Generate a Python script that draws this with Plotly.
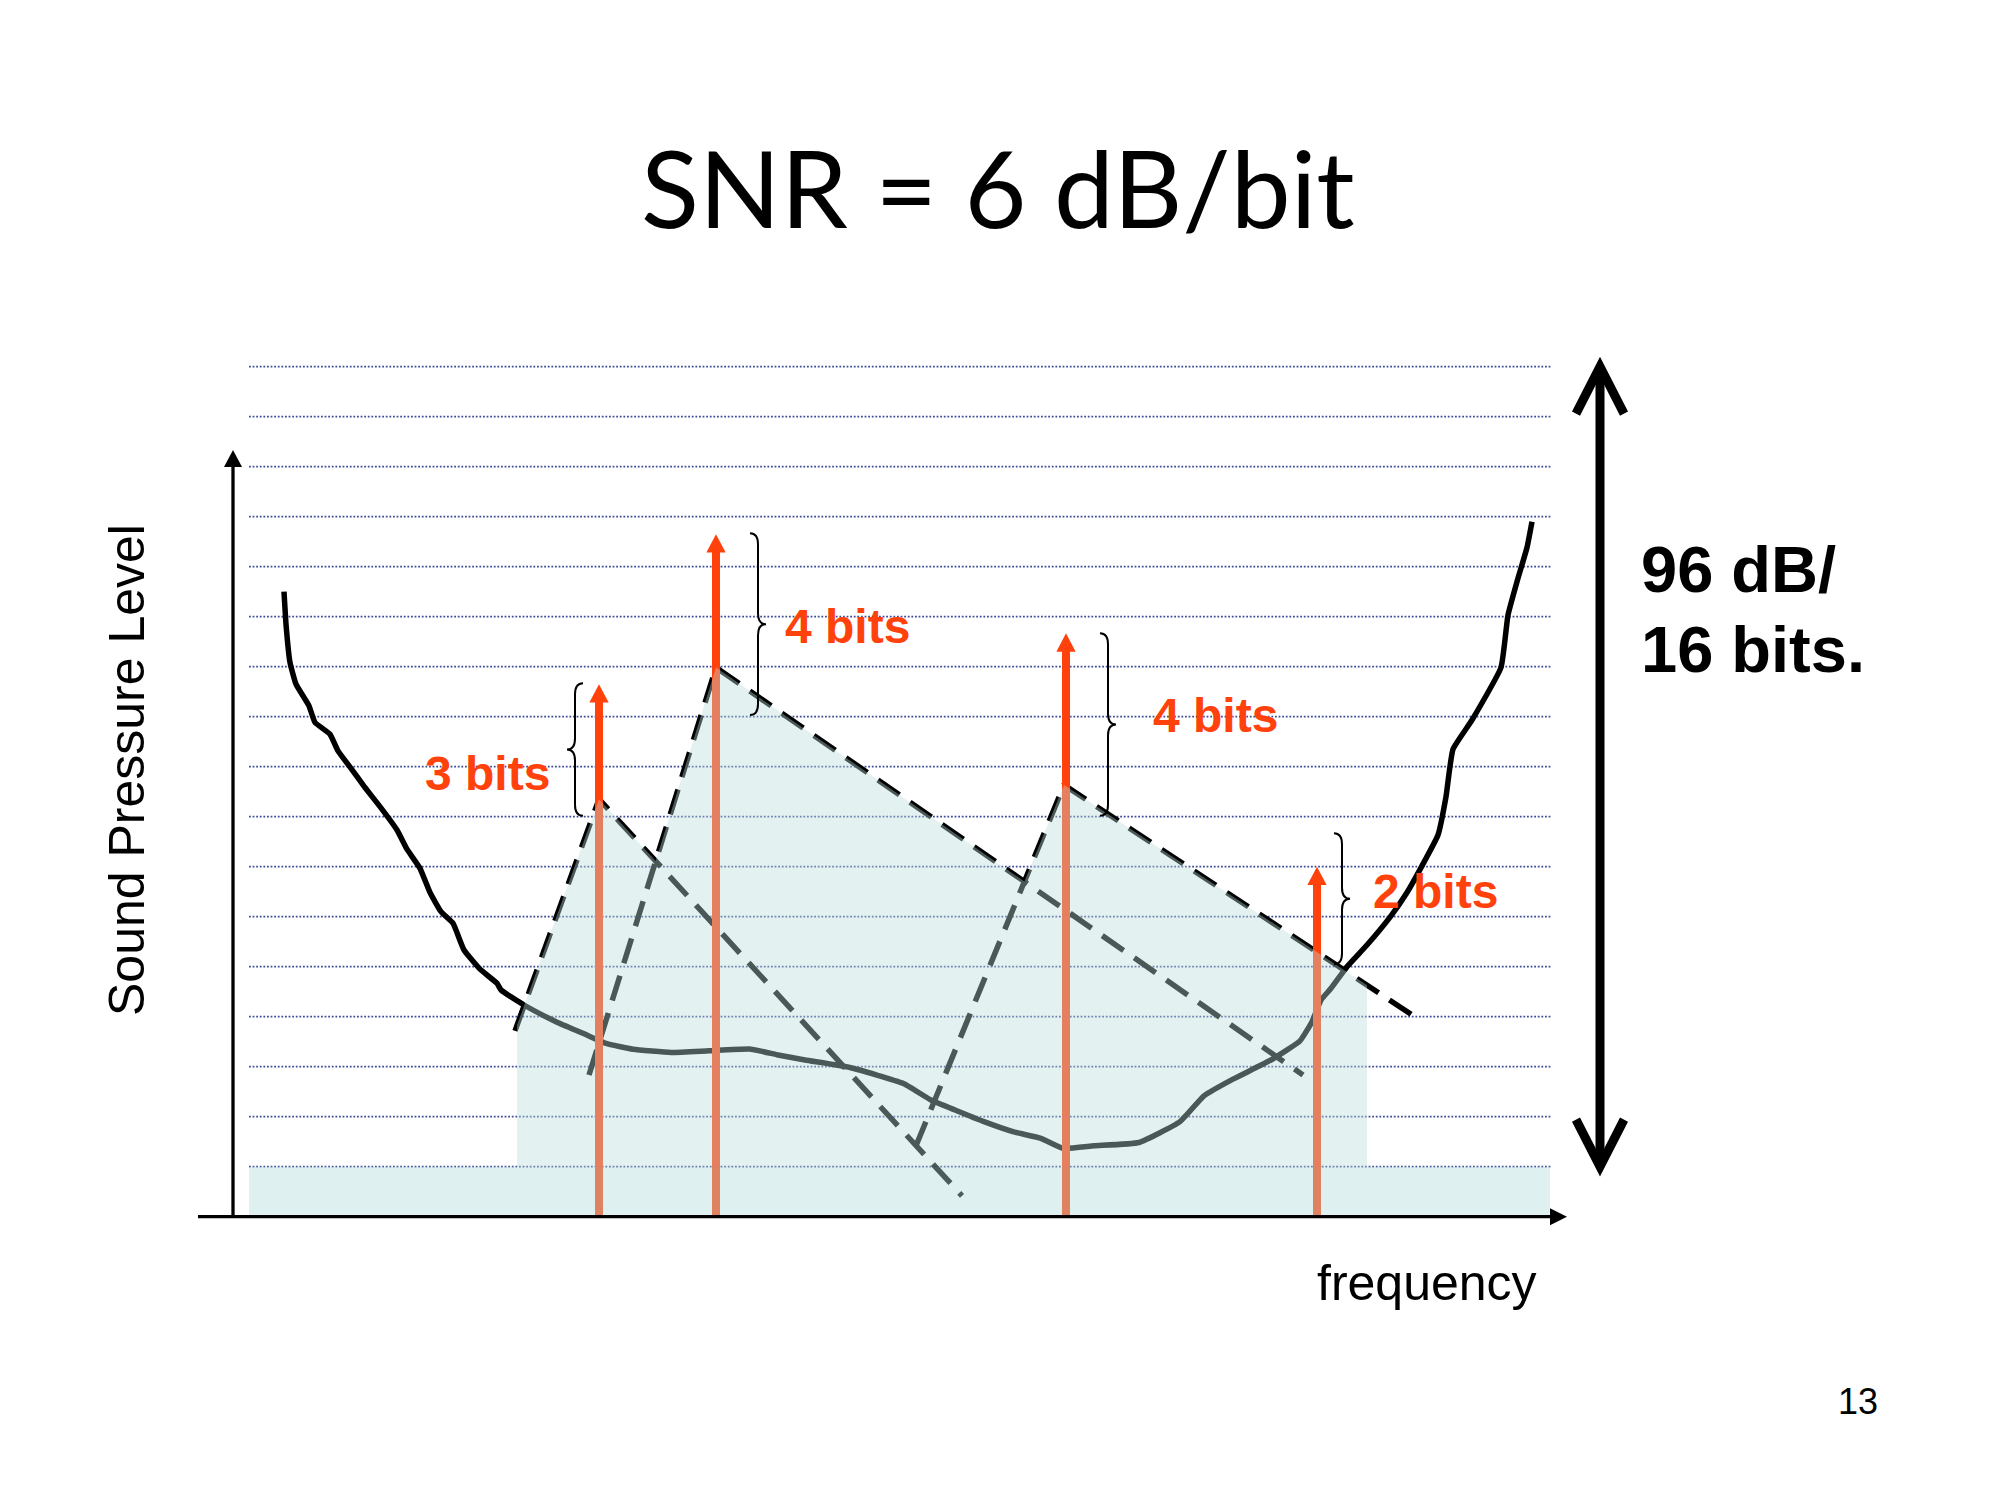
import plotly.graph_objects as go

# ---- data (frequency in arbitrary units, 0 = level axis; level in dB) ----
GRID_DB = [6, 12, 18, 24, 30, 36, 42, 48, 54, 60, 66, 72, 78, 84, 90, 96, 102]
GRID_F = [16, 1318]

NOISE_FLOOR_DB = 6
NOISE_F = [16, 1317]

# threshold in quiet
CURVE_F = [51, 53, 57, 63, 76, 82, 97, 105, 118, 132, 147, 164, 174, 187, 197,
           208, 220, 231, 247, 264, 268, 291, 323, 350, 373, 400, 438, 476, 518,
           545, 572, 617, 670, 698, 722, 751, 780, 808, 830, 861, 906, 947, 971,
           1000, 1038, 1067, 1079, 1088, 1098, 1114, 1134, 1158, 1174, 1189, 1205,
           1213, 1220, 1239, 1268, 1275, 1284, 1294, 1299]
CURVE_DB = [75.0, 71.1, 66.5, 63.9, 61.3, 59.3, 57.9, 55.9, 53.8, 51.5, 49.2, 46.4,
            44.1, 41.8, 38.9, 36.6, 35.2, 32.0, 29.7, 28.0, 27.2, 25.4, 23.4, 22.0,
            20.8, 20.1, 19.7, 19.9, 20.1, 19.4, 18.8, 17.9, 16.0, 14.0, 12.8, 11.4,
            10.2, 9.4, 8.2, 8.5, 8.9, 11.4, 14.5, 16.5, 18.8, 21.1, 23.4, 26.0, 27.4,
            30.0, 32.6, 36.1, 38.9, 42.1, 45.8, 50.4, 56.1, 59.6, 65.9, 72.2, 76.2,
            80.3, 83.4]

# tones
TONE_F = [366, 483, 833, 1084]
TONE_DB = [63.9, 81.9, 70.0, 42.0]
TONE_LABELS = ["3 bits", "4 bits", "4 bits", "2 bits"]

# masking skirts: left end, peak, right end
MASK_LEFT_F = [282, 356, 683]
MASK_LEFT_DB = [22.3, 17.0, 8.5]
MASK_PEAK_F = [366, 483, 831]
MASK_PEAK_DB = [50.1, 65.9, 51.8]
MASK_RIGHT_F = [729, 1070, 1188]
MASK_RIGHT_DB = [2.5, 17.0, 23.5]
MASK_F_LO, MASK_F_HI = 284, 1134

# braces marking the bits above the mask
BRACE_F = [342, 525, 875, 1109]
BRACE_TOP_DB = [64.0, 82.0, 70.0, 46.0]
BRACE_BOT_DB = [48.1, 60.2, 48.1, 30.3]
BRACE_SIDE = [-1, 1, 1, 1]

AXIS_F = [-35, 1334]
AXIS_TOP_DB = 92
SPAN_F = 1367
SPAN_DB = [6, 102]   # 96 dB / 16 bits

# ---- drawing constants ----
W, H = 2000, 1500
F0 = -233            # frequency unit at left page edge (1 unit = 1 px)
DB_BOTTOM = -34.0
DB_PER_PX = 0.12
RED = "rgb(255,66,12)"
ARIAL = "Liberation Sans"


def y_on(x0, y0, x1, y1, x):
    return y0 + (y1 - y0) * (x - x0) / (x1 - x0)


def cross(a, b, c, d):
    # intersection of line a-b with line c-d
    (x1, y1), (x2, y2), (x3, y3), (x4, y4) = a, b, c, d
    den = (x1 - x2) * (y3 - y4) - (y1 - y2) * (x3 - x4)
    px = ((x1 * y2 - y1 * x2) * (x3 - x4) - (x1 - x2) * (x3 * y4 - y3 * x4)) / den
    py = ((x1 * y2 - y1 * x2) * (y3 - y4) - (y1 - y2) * (x3 * y4 - y3 * x4)) / den
    return px, py


fig = go.Figure()

# dotted level lines
gx, gy = [], []
for lv in GRID_DB:
    gx += [GRID_F[0], GRID_F[1], None]
    gy += [lv, lv, None]
fig.add_trace(go.Scatter(x=gx, y=gy, mode="lines",
                         line=dict(color="#3E4C98", width=1.6, dash="1.8px,1.8px")))

# threshold curve
fig.add_trace(go.Scatter(x=CURVE_F, y=CURVE_DB, mode="lines",
                         line=dict(color="black", width=5.5, shape="spline", smoothing=0.4)))

# masking skirts
mx, my = [], []
for i in range(len(MASK_PEAK_F)):
    mx += [MASK_LEFT_F[i], MASK_PEAK_F[i], MASK_RIGHT_F[i], None]
    my += [MASK_LEFT_DB[i], MASK_PEAK_DB[i], MASK_RIGHT_DB[i], None]
fig.add_trace(go.Scatter(x=mx, y=my, mode="lines",
                         line=dict(color="black", width=5.5, dash="26px,13px")))

# tone shafts
HEAD_LEN = 18.3 * DB_PER_PX
HEAD_W = 19.3
sx, sy = [], []
for f, lv in zip(TONE_F, TONE_DB):
    sx += [f, f, None]
    sy += [0, lv - HEAD_LEN + 0.3, None]
fig.add_trace(go.Scatter(x=sx, y=sy, mode="lines", line=dict(color=RED, width=8)))

# noise floor band
fig.add_trace(go.Scatter(
    x=[NOISE_F[0], NOISE_F[1], NOISE_F[1], NOISE_F[0]],
    y=[0, 0, NOISE_FLOOR_DB, NOISE_FLOOR_DB],
    fill="toself", mode="none", fillcolor="rgba(176,219,219,0.42)"))

# masked region (overlay)
L = [(MASK_LEFT_F[i], MASK_LEFT_DB[i]) for i in range(3)]
P = [(MASK_PEAK_F[i], MASK_PEAK_DB[i]) for i in range(3)]
R = [(MASK_RIGHT_F[i], MASK_RIGHT_DB[i]) for i in range(3)]
poly = [(MASK_F_LO, NOISE_FLOOR_DB),
        (MASK_F_LO, y_on(*L[0], *P[0], MASK_F_LO)),
        P[0], cross(P[0], R[0], L[1], P[1]),
        P[1], cross(P[1], R[1], L[2], P[2]),
        P[2], (MASK_F_HI, y_on(*P[2], *R[2], MASK_F_HI)),
        (MASK_F_HI, NOISE_FLOOR_DB)]
fig.add_trace(go.Scatter(x=[p[0] for p in poly], y=[p[1] for p in poly],
                         fill="toself", mode="none", fillcolor="rgba(187,220,220,0.4)"))

shapes = []

# tone heads
for f, lv in zip(TONE_F, TONE_DB):
    shapes.append(dict(type="path", xref="x", yref="y", layer="above",
                       path=f"M{f - HEAD_W / 2},{lv - HEAD_LEN} L{f},{lv} L{f + HEAD_W / 2},{lv - HEAD_LEN} Z",
                       fillcolor=RED, line=dict(width=0)))

# braces
for f, top, bot, side in zip(BRACE_F, BRACE_TOP_DB, BRACE_BOT_DB, BRACE_SIDE):
    w = 8 * side
    r = 11 * DB_PER_PX
    mid = (top + bot) / 2
    path = (f"M{f - w},{top} Q{f},{top} {f},{top - r} L{f},{mid + r} "
            f"Q{f},{mid} {f + w},{mid} Q{f},{mid} {f},{mid - r} "
            f"L{f},{bot + r} Q{f},{bot} {f - w},{bot}")
    shapes.append(dict(type="path", xref="x", yref="y", layer="above", path=path,
                       line=dict(color="black", width=2)))

# axes
shapes.append(dict(type="line", xref="x", yref="y", x0=AXIS_F[0], x1=AXIS_F[1] - 15,
                   y0=0, y1=0, line=dict(color="black", width=3.3), layer="above"))
shapes.append(dict(type="line", xref="x", yref="y", x0=0, x1=0, y0=0,
                   y1=AXIS_TOP_DB - 1.8, line=dict(color="black", width=3.3), layer="above"))
hx = 8.5 * DB_PER_PX
shapes.append(dict(type="path", xref="x", yref="y", layer="above",
                   path=f"M{AXIS_F[1] - 17},{-hx} L{AXIS_F[1]},0 L{AXIS_F[1] - 17},{hx} Z",
                   fillcolor="black", line=dict(width=0)))
hy = 17 * DB_PER_PX
shapes.append(dict(type="path", xref="x", yref="y", layer="above",
                   path=f"M-9,{AXIS_TOP_DB - hy} L0,{AXIS_TOP_DB} L9,{AXIS_TOP_DB - hy} Z",
                   fillcolor="black", line=dict(width=0)))

# 96 dB span arrow
arm = 47 * DB_PER_PX
shapes.append(dict(type="line", xref="x", yref="y", x0=SPAN_F, x1=SPAN_F,
                   y0=SPAN_DB[0] + 0.4, y1=SPAN_DB[1] - 0.4,
                   line=dict(color="black", width=9), layer="above"))
for tip, d in [(SPAN_DB[1], -arm), (SPAN_DB[0], arm)]:
    shapes.append(dict(type="path", xref="x", yref="y", layer="above",
                       path=f"M{SPAN_F - 24},{tip + d} L{SPAN_F},{tip} L{SPAN_F + 24},{tip + d}",
                       line=dict(color="black", width=9)))

fig.update_layout(shapes=shapes)

# ---- text ----
def note(text, x, y, size, color="black", family=ARIAL, weight="normal",
         xanchor="center", angle=0):
    fig.add_annotation(text=text, xref="paper", yref="paper", x=x / W, y=1 - y / H,
                       xanchor=xanchor, yanchor="middle", showarrow=False,
                       textangle=angle,
                       font=dict(family=family, size=size, color=color, weight=weight))


note("SNR = 6 dB/bit", 998, 186, 107, family="Lato")
note("Sound Pressure Level", 127, 770, 50, angle=-90)
note("frequency", 1427, 1283, 50)
note("13", 1858, 1401, 36)
note("96 dB/", 1639, 569, 65, weight="bold", xanchor="left")
note("16 bits.", 1639, 649, 65, weight="bold", xanchor="left")

LABEL_PX = [(487, 773), (847, 627), (1215, 715), (1435, 891)]
for txt, (lx, ly) in zip(TONE_LABELS, LABEL_PX):
    note(txt, lx, ly, 48, color=RED, weight="bold")

fig.update_layout(
    width=W, height=H, showlegend=False,
    margin=dict(l=0, r=0, t=0, b=0),
    paper_bgcolor="white", plot_bgcolor="white",
    xaxis=dict(range=[F0, F0 + W], visible=False, fixedrange=True),
    yaxis=dict(range=[DB_BOTTOM, DB_BOTTOM + H * DB_PER_PX], visible=False, fixedrange=True),
)

# page margin off so the figure sits at the window corner
fig.write_html("out.html", config={"displayModeBar": False},
               post_script="document.body.style.margin='0px';")
